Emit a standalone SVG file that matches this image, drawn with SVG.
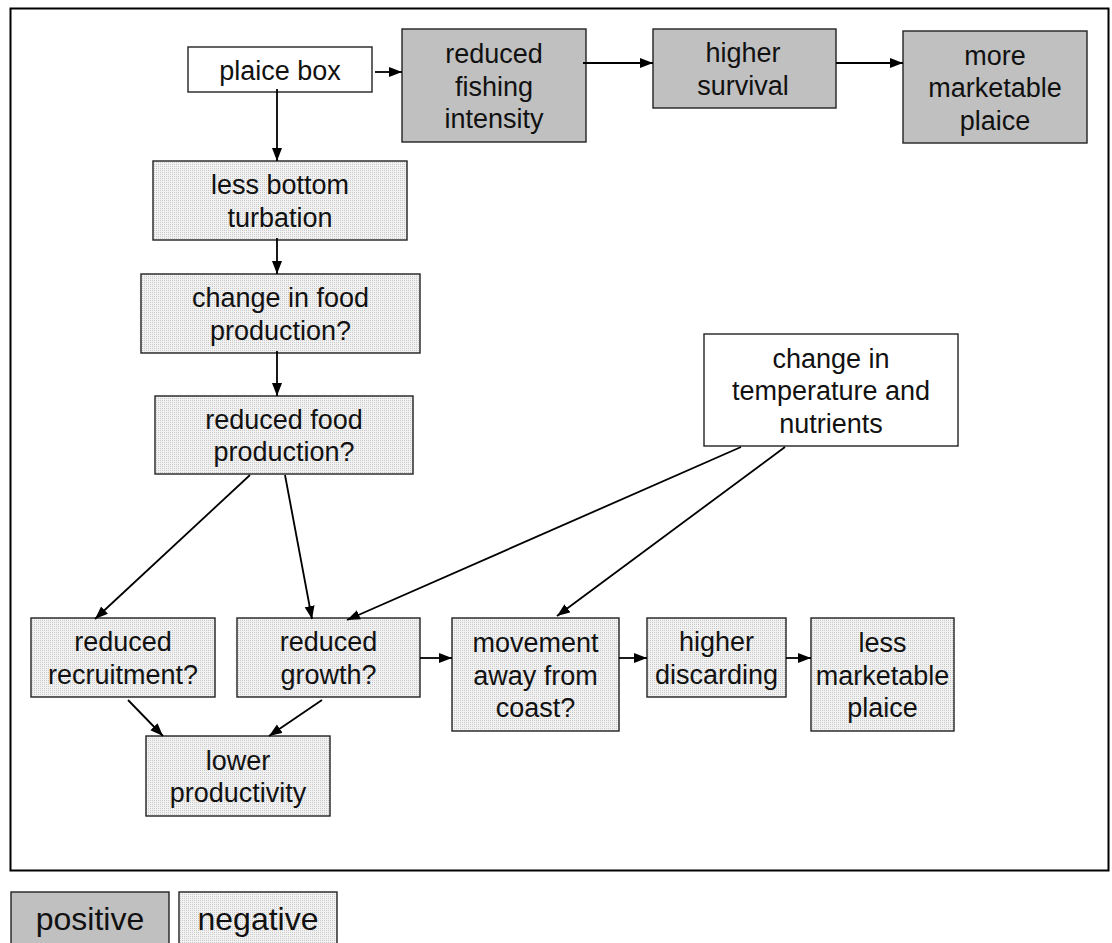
<svg xmlns="http://www.w3.org/2000/svg" width="1112" height="943" viewBox="0 0 1112 943">
<defs>
<pattern id="dots" width="2" height="2" patternUnits="userSpaceOnUse">
<rect width="2" height="2" fill="#f2f2f2"/>
<rect width="1" height="1" fill="#cacaca"/>
</pattern>
<marker id="arr" markerUnits="userSpaceOnUse" markerWidth="14" markerHeight="11" refX="13" refY="5" orient="auto">
<path d="M0,0 L13,5 L0,10 z" fill="#000"/>
</marker>
</defs>
<style>
.box{stroke:#222;stroke-width:1.4}
.pos{fill:#c0c0c0}
.neg{fill:url(#dots)}
.wht{fill:#fff}
text{font-family:"Liberation Sans",Arial,sans-serif;font-size:27px;fill:#111;text-anchor:middle}
.leg{font-size:32px}
.con line{stroke:#000;stroke-width:1.8;marker-end:url(#arr)}
</style>
<rect x="0" y="0" width="1112" height="943" fill="#fff"/>
<rect x="10.5" y="8.5" width="1098" height="862" fill="none" stroke="#000" stroke-width="2"/>

<g id="plaice-box"><rect class="box wht" x="188" y="47" width="184" height="45"/><text x="280" y="80">plaice box</text></g>
<g id="reduced-fishing"><rect class="box pos" x="402" y="29" width="184" height="113"/><text x="494" y="63">reduced</text><text x="494" y="95.5">fishing</text><text x="494" y="128">intensity</text></g>
<g id="higher-survival"><rect class="box pos" x="653" y="29" width="183" height="79"/><text x="743" y="62">higher</text><text x="743" y="94.5">survival</text></g>
<g id="more-marketable"><rect class="box pos" x="903" y="31" width="184" height="112"/><text x="995" y="64.5">more</text><text x="995" y="97">marketable</text><text x="995" y="129.5">plaice</text></g>
<g id="less-bottom"><rect class="box neg" x="153" y="161" width="254" height="79"/><text x="280" y="194">less bottom</text><text x="280" y="226.5">turbation</text></g>
<g id="change-food"><rect class="box neg" x="141" y="274" width="279" height="79"/><text x="280.5" y="307">change in food</text><text x="280.5" y="339.5">production?</text></g>
<g id="reduced-food"><rect class="box neg" x="155" y="396" width="258" height="78"/><text x="284" y="428.5">reduced food</text><text x="284" y="461">production?</text></g>
<g id="temperature"><rect class="box wht" x="704" y="334" width="254" height="112"/><text x="831" y="367.5">change in</text><text x="831" y="400">temperature and</text><text x="831" y="432.5">nutrients</text></g>
<g id="reduced-recruitment"><rect class="box neg" x="31" y="618" width="184" height="79"/><text x="123" y="651">reduced</text><text x="123" y="683.5">recruitment?</text></g>
<g id="reduced-growth"><rect class="box neg" x="237" y="618" width="183" height="79"/><text x="328.5" y="651">reduced</text><text x="328.5" y="683.5">growth?</text></g>
<g id="lower-productivity"><rect class="box neg" x="146" y="736" width="184" height="80"/><text x="238" y="769.5">lower</text><text x="238" y="802">productivity</text></g>
<g id="movement"><rect class="box neg" x="452" y="618" width="167" height="113"/><text x="535.5" y="652">movement</text><text x="535.5" y="684.5">away from</text><text x="535.5" y="717">coast?</text></g>
<g id="higher-discarding"><rect class="box neg" x="647" y="618" width="139" height="79"/><text x="716.5" y="651">higher</text><text x="716.5" y="683.5">discarding</text></g>
<g id="less-marketable"><rect class="box neg" x="811" y="618" width="143" height="113"/><text x="882.5" y="652">less</text><text x="882.5" y="684.5">marketable</text><text x="882.5" y="717">plaice</text></g>

<g id="legend-positive"><rect class="box pos" x="11" y="892" width="158" height="60"/><text class="leg" x="90" y="930">positive</text></g>
<g id="legend-negative"><rect class="box neg" x="179" y="892" width="158" height="60"/><text class="leg" x="258" y="930">negative</text></g>

<g id="connectors" class="con">
<line x1="375" y1="72" x2="402" y2="72"/>
<line x1="583" y1="63" x2="653" y2="63"/>
<line x1="836" y1="63" x2="903" y2="63"/>
<line x1="277" y1="89" x2="277" y2="161"/>
<line x1="277" y1="238" x2="277" y2="274"/>
<line x1="277" y1="351" x2="277" y2="396"/>
<line x1="250" y1="475" x2="95" y2="619"/>
<line x1="285" y1="475" x2="312" y2="619"/>
<line x1="741" y1="447" x2="347" y2="620"/>
<line x1="785" y1="447" x2="557" y2="616"/>
<line x1="420" y1="658" x2="452" y2="658"/>
<line x1="619" y1="658" x2="647" y2="658"/>
<line x1="786" y1="658" x2="811" y2="658"/>
<line x1="128" y1="700" x2="163" y2="736"/>
<line x1="322" y1="700" x2="269" y2="736"/>
</g>
</svg>
